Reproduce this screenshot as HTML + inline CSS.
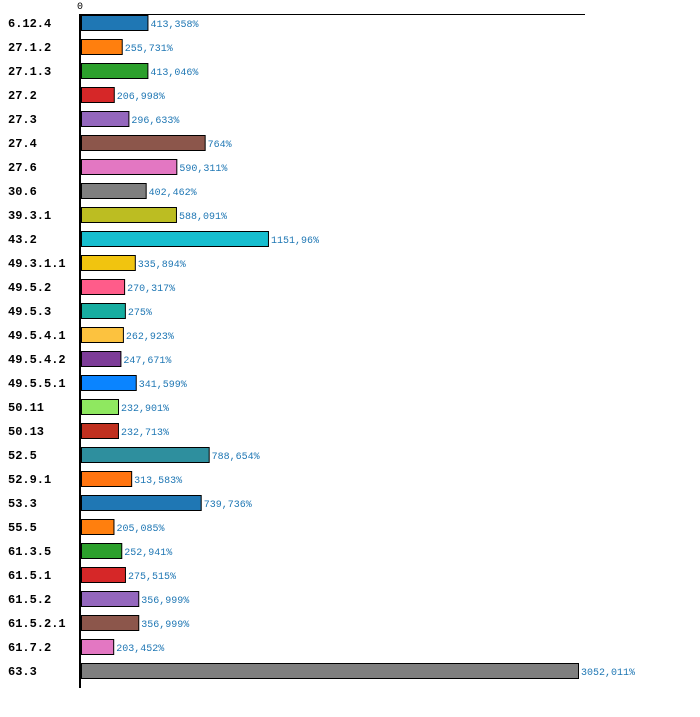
<!DOCTYPE html>
<html><head><meta charset="utf-8"><style>
body{margin:0;background:#fff;width:700px;height:717px;overflow:hidden}
svg{display:block}
.lbl{font-family:"Liberation Mono",monospace;font-size:12px;font-weight:bold;fill:#000}
.val{font-family:"Liberation Mono",monospace;font-size:10px;fill:#1f77b4}
</style></head><body>
<svg id="chart" width="700" height="717"></svg>
<script>
const categories=["6.12.4","27.1.2","27.1.3","27.2","27.3","27.4","27.6","30.6","39.3.1","43.2","49.3.1.1","49.5.2","49.5.3","49.5.4.1","49.5.4.2","49.5.5.1","50.11","50.13","52.5","52.9.1","53.3","55.5","61.3.5","61.5.1","61.5.2","61.5.2.1","61.7.2","63.3"];
const values=[413.358,255.731,413.046,206.998,296.633,764,590.311,402.462,588.091,1151.96,335.894,270.317,275,262.923,247.671,341.599,232.901,232.713,788.654,313.583,739.736,205.085,252.941,275.515,356.999,356.999,203.452,3052.011];
const valueLabels=["413,358%","255,731%","413,046%","206,998%","296,633%","764%","590,311%","402,462%","588,091%","1151,96%","335,894%","270,317%","275%","262,923%","247,671%","341,599%","232,901%","232,713%","788,654%","313,583%","739,736%","205,085%","252,941%","275,515%","356,999%","356,999%","203,452%","3052,011%"];
const colors=["#1f77b4","#ff7f0e","#2ca02c","#d62728","#9467bd","#8c564b","#e377c2","#7f7f7f","#bcbd22","#17becf","#f1c40f","#ff5c8a","#17ada0","#fcc23f","#7d3c98","#0a84ff","#8fe860","#c0301f","#2e8f9e","#ff7410","#1f77b4","#ff7f0e","#2ca02c","#d62728","#9467bd","#8c564b","#e377c2","#7f7f7f"];
const NS="http://www.w3.org/2000/svg";
const svg=document.getElementById('chart');
const x0=81, kx=498/3052.011;
const xScale=v=>x0+v*kx;
const yScale=i=>15+i*24;
function mk(t,a){const e=document.createElementNS(NS,t);for(const k in a)e.setAttribute(k,a[k]);svg.appendChild(e);return e;}
categories.forEach((c,i)=>{
  const y=yScale(i);
  const r=mk('rect',{x:x0+0.5,y:y+0.5,width:xScale(values[i])-x0-1,height:15,fill:colors[i],stroke:'#000','stroke-width':1});
  
  
  const l=mk('text',{x:8,y:y+12,class:'lbl'});l.textContent=c;
  
  
  const v=mk('text',{x:xScale(values[i])+2,y:y+12,class:'val'});v.textContent=valueLabels[i];
  
  
});
const ax=mk('line',{x1:80,y1:14,x2:80,y2:688,stroke:'#000','stroke-width':2});


const tx=mk('line',{x1:79,y1:14.5,x2:585,y2:14.5,stroke:'#000','stroke-width':1});


const z=mk('text',{x:77,y:9,class:'val',style:'fill:#000;font-size:10px'});z.textContent='0';


</script>
</body></html>
